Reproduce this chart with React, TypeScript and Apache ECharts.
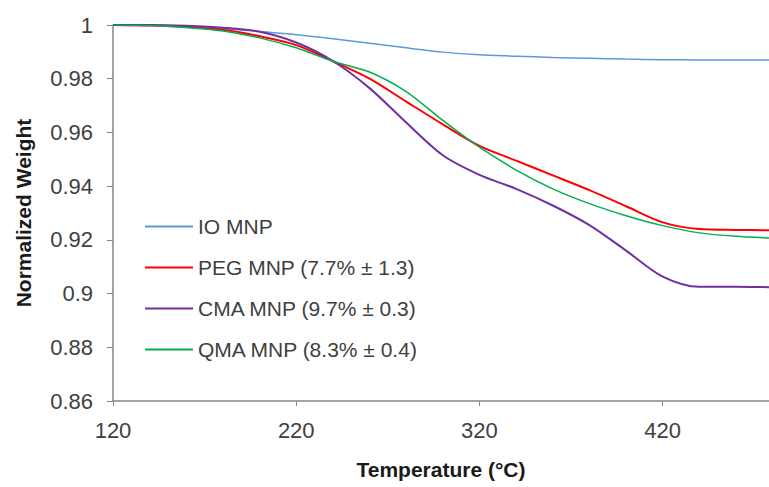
import React, { useEffect, useRef } from "react";
import * as echarts from "echarts";

const temperatures = [120, 140, 160, 180, 200, 220, 240, 260, 280, 300, 320, 340, 360, 380, 400, 420, 440, 460, 478];

const ioMnp = [1.0, 0.9999, 0.9995, 0.9987, 0.9976, 0.9964, 0.9949, 0.9932, 0.9915, 0.9899, 0.9889, 0.9884, 0.9879, 0.9876, 0.9873, 0.9871, 0.987, 0.987, 0.987];
const pegMnp = [1.0, 0.9998, 0.9993, 0.9982, 0.9958, 0.9925, 0.9865, 0.98, 0.9715, 0.963, 0.955, 0.9495, 0.944, 0.9385, 0.9325, 0.9265, 0.924, 0.9237, 0.9236];
const cmaMnp = [1.0, 1.0, 0.9997, 0.999, 0.9975, 0.9935, 0.9866, 0.9765, 0.9637, 0.9515, 0.9442, 0.939, 0.9328, 0.9255, 0.916, 0.9063, 0.9025, 0.9025, 0.9024];
const qmaMnp = [1.0, 0.9998, 0.9991, 0.9978, 0.9952, 0.9915, 0.9865, 0.9825, 0.9752, 0.9645, 0.9545, 0.946, 0.939, 0.9335, 0.929, 0.9253, 0.9226, 0.9213, 0.9207];

const seriesNames = ["IO MNP", "PEG MNP (7.7% ± 1.3)", "CMA MNP (9.7% ± 0.3)", "QMA MNP (8.3% ± 0.4)"];
const seriesColors = ["#5B9BD5", "#FF0000", "#7030A0", "#00B050"];
const seriesWidths = [1.5, 2, 2, 1.5];

const yTicksMin = 0.86;
const yTicksMax = 1.0;

export default function App() {
  const ref = useRef<HTMLDivElement>(null);

  useEffect(() => {
    if (!ref.current) return;
    const chart = echarts.init(ref.current, undefined, { renderer: "svg" });
    const allData = [ioMnp, pegMnp, cmaMnp, qmaMnp];
    const font = "'Liberation Sans', Arial, sans-serif";
    chart.setOption({
      animation: false,
      backgroundColor: "#ffffff",
      grid: { left: 113, right: 0, top: 25, bottom: 86, containLabel: false },
      legend: {
        orient: "vertical",
        left: 140,
        top: 211,
        itemWidth: 48,
        itemHeight: 2,
        itemGap: 20,
        icon: "rect",
        data: seriesNames,
        textStyle: { fontFamily: font, fontSize: 21, lineHeight: 21, color: "#404040" },
      },
      xAxis: {
        type: "value",
        min: 120,
        max: 478,
        interval: 100,
        name: "Temperature (°C)",
        nameLocation: "middle",
        nameGap: 58,
        nameTextStyle: { fontFamily: font, fontSize: 21, fontWeight: "bold", color: "#1a1a1a" },
        axisLine: { show: true, lineStyle: { color: "#868686", width: 1.5 } },
        axisTick: { show: true, length: 5, lineStyle: { color: "#868686" } },
        axisLabel: { fontFamily: font, fontSize: 22, color: "#404040", margin: 18, showMaxLabel: false },
        splitLine: { show: false },
      },
      yAxis: {
        type: "value",
        min: yTicksMin,
        max: yTicksMax,
        interval: 0.02,
        name: "Normalized Weight",
        nameLocation: "middle",
        nameGap: 79,
        nameTextStyle: { fontFamily: font, fontSize: 21, fontWeight: "bold", color: "#1a1a1a" },
        axisLine: { show: true, lineStyle: { color: "#868686", width: 1.5 } },
        axisTick: { show: true, length: 6, lineStyle: { color: "#868686" } },
        axisLabel: {
          fontFamily: font,
          fontSize: 22,
          color: "#404040",
          margin: 20,
          formatter: (v: number) => String(parseFloat(v.toFixed(2))),
        },
        splitLine: { show: false },
      },
      series: allData.map((d, i) => ({
        name: seriesNames[i],
        type: "line",
        data: temperatures.map((t, j) => [t, d[j]]),
        showSymbol: false,
        symbol: "none",
        smooth: 0.3,
        color: seriesColors[i],
        lineStyle: { color: seriesColors[i], width: seriesWidths[i] },
        z: i === 0 ? 1 : 2 + i,
      })),
    });
    return () => chart.dispose();
  }, []);

  return (
    <div
      ref={ref}
      style={{ position: "fixed", left: 0, top: 0, width: 769, height: 487 }}
    />
  );
}
